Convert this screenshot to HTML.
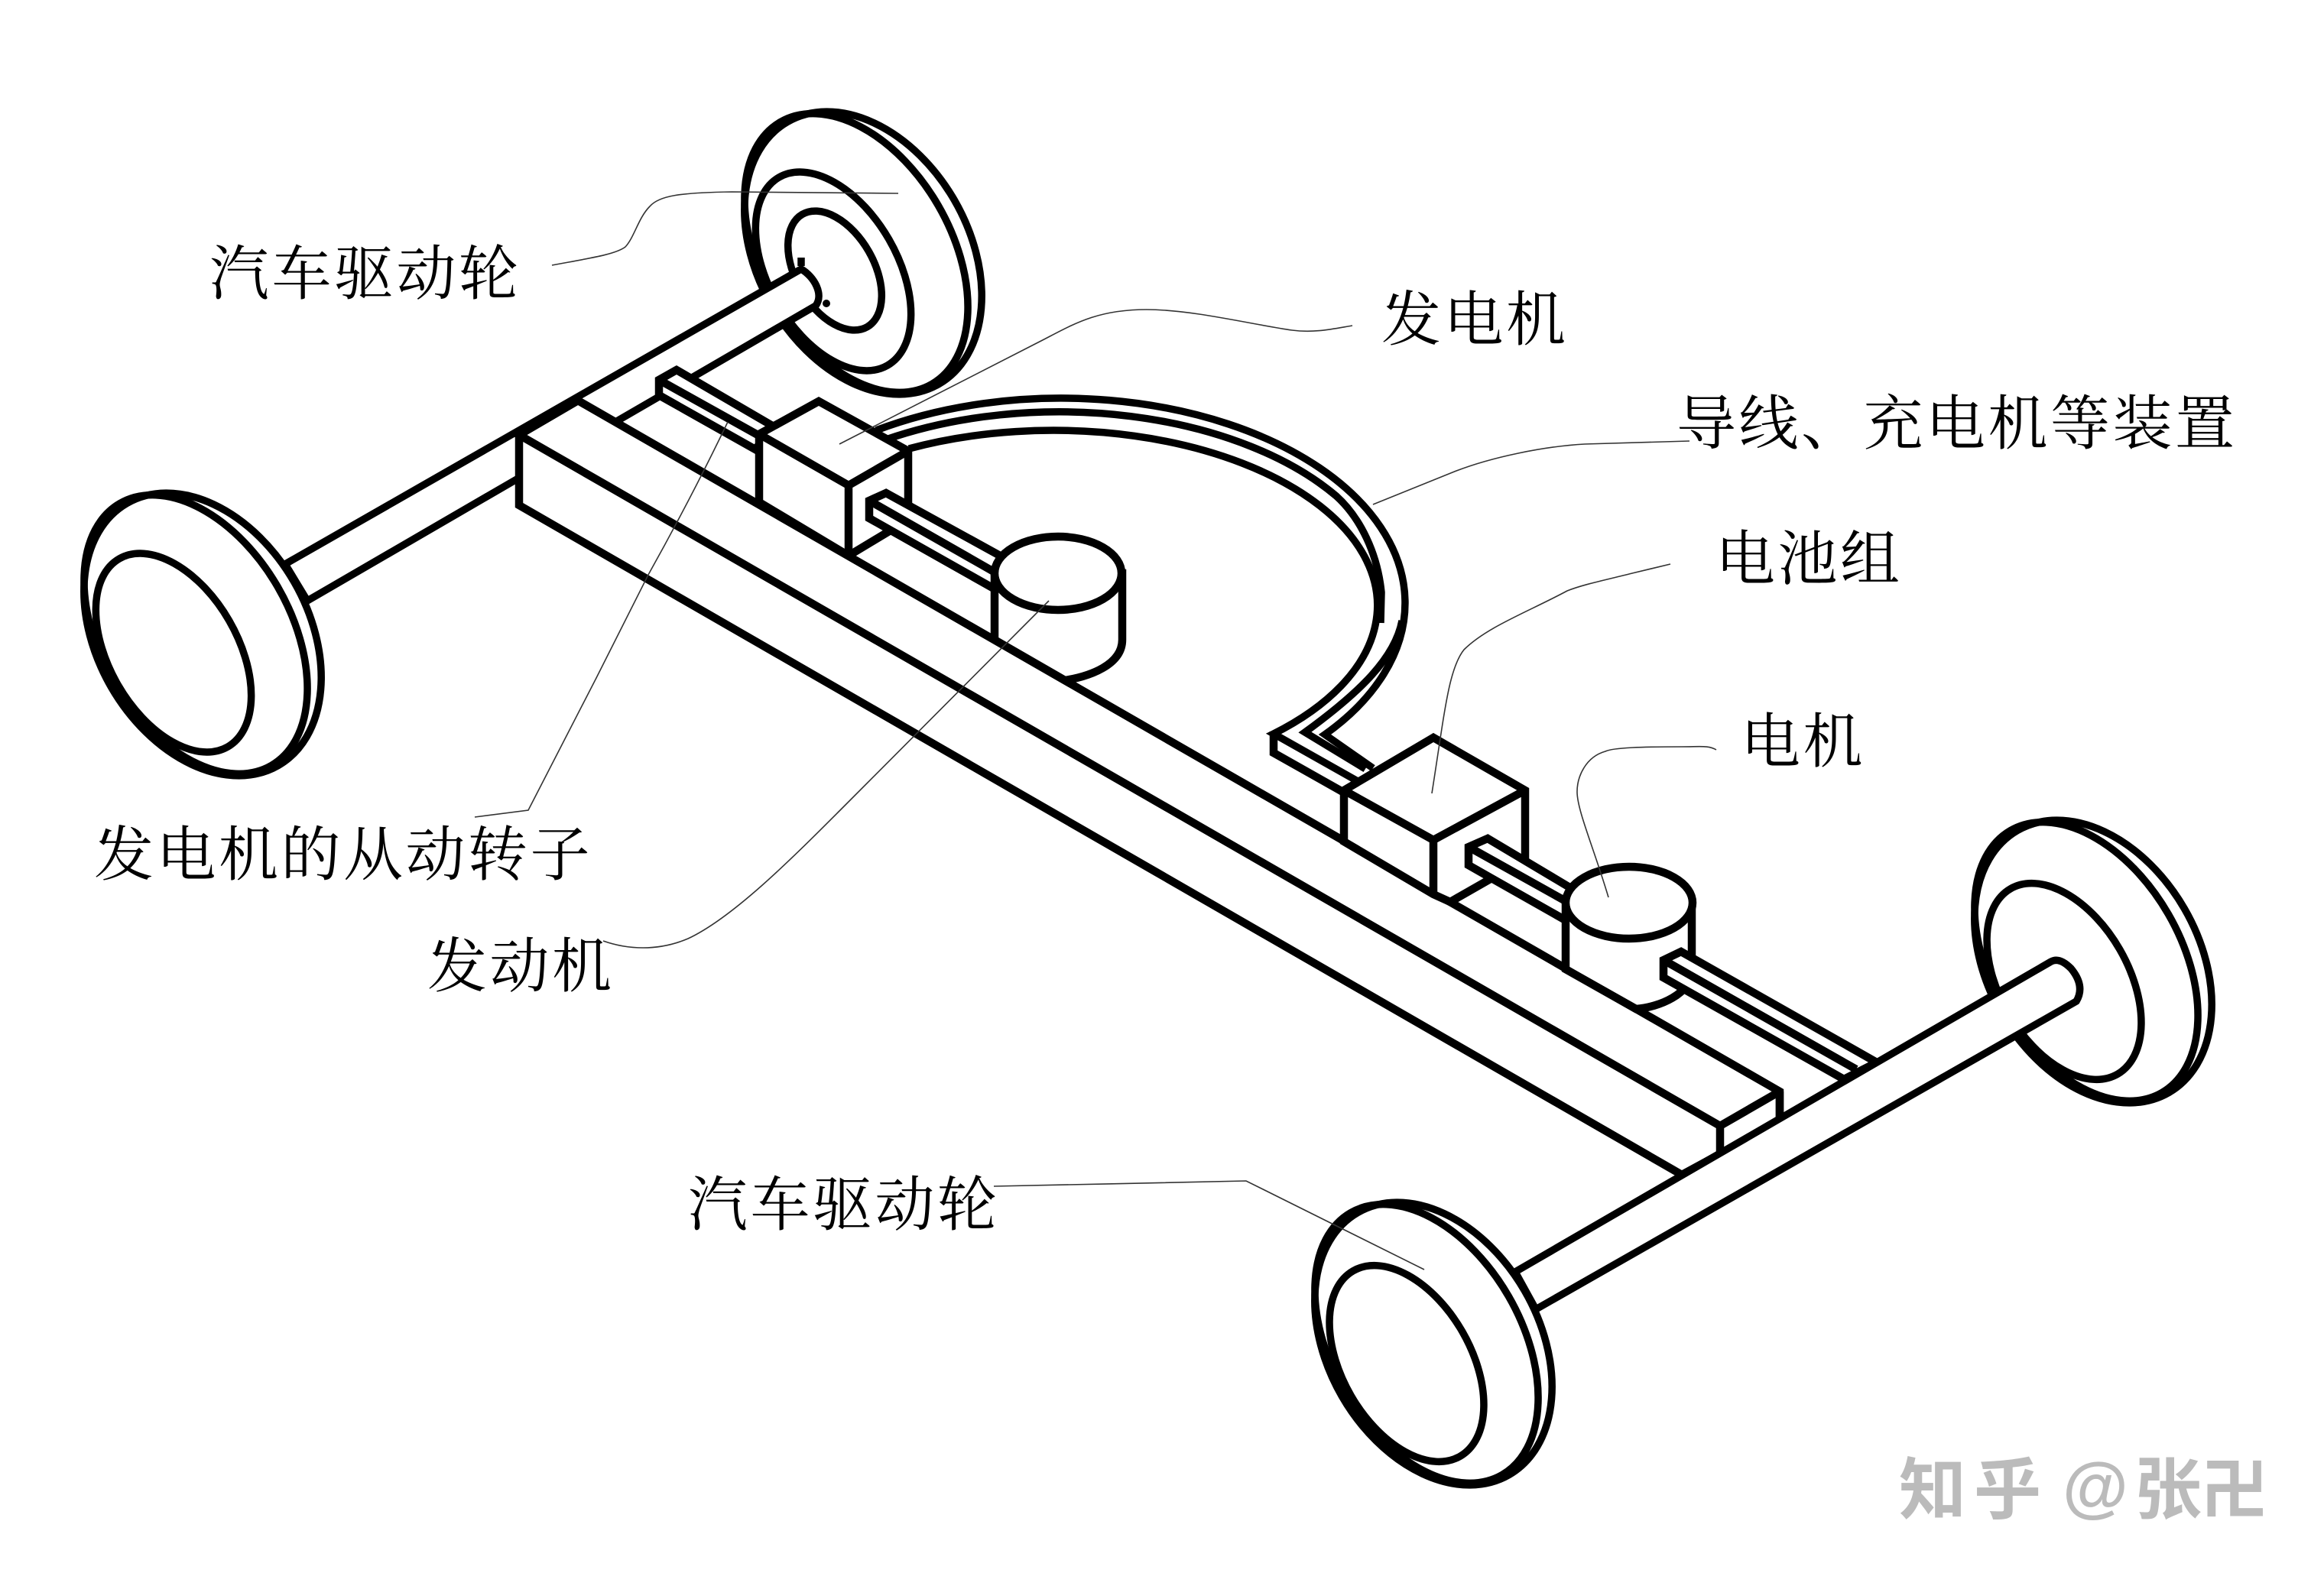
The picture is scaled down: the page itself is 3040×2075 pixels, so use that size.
<!DOCTYPE html>
<html lang="zh">
<head>
<meta charset="utf-8">
<title>串联式混合动力汽车结构图</title>
<style>
html,body{margin:0;padding:0;background:#fff;}
svg{display:block;}
.w{fill:#fff;stroke:#000;stroke-width:9.5;stroke-linejoin:round;}
.n{fill:none;stroke:#000;stroke-width:9.5;}
.b{fill:#fff;stroke:#000;stroke-width:10.5;stroke-linejoin:miter;}
.l{fill:none;stroke:#000;stroke-width:10.5;stroke-linejoin:miter;}
.t{fill:none;stroke:#333;stroke-width:1.6;}
.c{font-family:"Liberation Serif","Noto Serif CJK SC",serif;font-size:78px;letter-spacing:3.5px;font-weight:400;fill:#000;}
.m{font-family:"Liberation Sans","Noto Sans CJK SC",sans-serif;font-size:88px;font-weight:700;fill:#bbb;}
</style>
</head>
<body>
<svg width="3040" height="2075" viewBox="0 0 3040 2075" xmlns="http://www.w3.org/2000/svg">
<rect width="3040" height="2075" fill="#fff"/>

<!-- rear-right wheel -->
<g>
<ellipse class="w" cx="1129" cy="331" rx="138" ry="198" transform="rotate(-30 1129 331)"/>
<ellipse class="n" cx="1120" cy="331" rx="124" ry="198" transform="rotate(-30 1120 331)"/>
<ellipse class="w" cx="1090" cy="355" rx="84" ry="142" transform="rotate(-30 1090 355)"/>
<ellipse class="w" cx="1092" cy="354" rx="51" ry="85" transform="rotate(-30 1092 354)"/>
</g>

<!-- rear axle -->
<path class="w" d="M373,738 L1048,352 C1065,362 1078,385 1067,400 L402,786 Z"/>
<circle cx="1081" cy="397" r="5"/>
<path class="n" d="M1048,337 V348"/>

<!-- rear-left wheel -->
<g>
<ellipse class="w" cx="265" cy="830" rx="138" ry="198" transform="rotate(-30 265 830)"/>
<ellipse class="n" cx="256" cy="830" rx="124" ry="198" transform="rotate(-30 256 830)"/>
<ellipse class="n" cx="227" cy="854" rx="84" ry="142" transform="rotate(-30 227 854)"/>
</g>

<!-- chassis beam -->
<path d="M756,524 L2328,1428 L2328,1465 L2246,1512 L2200,1537 L679,661 L679,569 Z" class="b"/>
<path class="l" d="M756,524 L679,569 L2250,1473 L2328,1428"/>
<path class="l" d="M2250,1473 V1513 M2328,1428 V1462"/>

<!-- shaft bar 1 -->
<path class="b" d="M885,484 L862,497 L862,517 L988,588 L1012,558 Z"/>
<path class="l" d="M862,497 L993,570"/>

<!-- wire -->
<path class="n" d="M1146,563 A450,268 0 0 1 1733,961 L1796,1005"/>
<path class="n" d="M1159,575 A438,251 0 0 1 1748,649 C1780,678 1802,725 1807,775 L1806,815"/>
<path class="n" d="M1834,812 C1825,860 1780,905 1707,958 L1786,1006"/>
<path class="n" d="M1189,587 A424,229 0 0 1 1666,960 L1783,1026"/>
<path class="l" d="M1666,957 V985 L1760,1038"/>

<!-- cube 1 -->
<path class="b" d="M1071,525 L993,568 V657 L1110,727 L1188,680 V590 Z"/>
<path class="l" d="M993,568 L1110,635 L1188,590 M1110,635 V727"/>

<!-- bar 2 -->
<path class="b" d="M1159,645 L1137,655 V678 L1300,770 L1310,728 Z"/>
<path class="l" d="M1137,655 L1300,748"/>

<!-- cylinder 1 -->
<path class="b" d="M1301,750 V837 L1393,890 C1425,885 1468,870 1468,837 V750 Z"/>
<ellipse class="b" cx="1384" cy="750" rx="83" ry="48"/>

<!-- cube 2 -->
<path class="b" d="M1875,965 L1758,1034 V1101 L1875,1170 L1897,1180 L1995,1124 V1034 Z"/>
<path class="l" d="M1758,1034 L1875,1099 L1995,1034 M1875,1099 V1170"/>

<!-- bar 3 -->
<path class="b" d="M1946,1097 L1921,1108 V1132 L2055,1208 L2060,1165 Z"/>
<path class="l" d="M1921,1108 L2050,1180"/>

<!-- cylinder 2 -->
<path class="b" d="M2048,1181 V1268 L2140,1320 C2170,1318 2213,1300 2213,1270 V1181 Z"/>
<ellipse class="b" cx="2131" cy="1181" rx="83" ry="47"/>

<!-- bar 4 -->
<path class="b" d="M2199,1245 L2176,1256 V1279 L2412,1412 L2455,1390 Z"/>
<path class="l" d="M2176,1256 L2428,1399"/>

<!-- front-right wheel -->
<g>
<ellipse class="w" cx="2738" cy="1258" rx="138" ry="198" transform="rotate(-30 2738 1258)"/>
<ellipse class="n" cx="2729" cy="1258" rx="124" ry="198" transform="rotate(-30 2729 1258)"/>
<ellipse class="n" cx="2700" cy="1284" rx="84" ry="140" transform="rotate(-30 2700 1284)"/>
</g>

<!-- front axle -->
<path class="w" d="M1982,1664 L2683,1258 Q2694,1252 2709,1267 Q2728,1290 2716,1310 L2009,1713 Z"/>

<!-- front-left wheel -->
<g>
<ellipse class="w" cx="1875" cy="1758" rx="138" ry="198" transform="rotate(-30 1875 1758)"/>
<ellipse class="n" cx="1866" cy="1758" rx="124" ry="198" transform="rotate(-30 1866 1758)"/>
<ellipse class="n" cx="1840" cy="1784" rx="84" ry="140" transform="rotate(-30 1840 1784)"/>
</g>

<!-- leader lines -->
<path class="t" d="M722,347 C770,338 805,333 818,323 C830,310 835,285 850,270 C862,256 890,252 957,251 L1175,253"/>
<path class="t" d="M1098,581 L1354,450 C1400,427 1430,405 1500,405 C1560,405 1640,425 1690,432 C1720,436 1745,430 1769,426"/>
<path class="t" d="M1796,660 L1900,618 C1950,598 2020,584 2073,581 L2210,577"/>
<path class="t" d="M2185,738 L2135,750 C2095,760 2070,765 2050,773 C2000,800 1945,820 1915,850 C1895,875 1890,930 1873,1038"/>
<path class="t" d="M2245,981 C2235,975 2225,977 2200,977 C2150,977 2110,978 2100,983 C2075,990 2063,1015 2063,1036 C2063,1060 2085,1110 2104,1174"/>
<path class="t" d="M621,1069 L691,1060 L780,887 L848,752 Q905,650 952,552"/>
<path class="t" d="M789,1231 C820,1242 860,1245 900,1228 C960,1200 1040,1119 1100,1059 L1372,786"/>
<path class="t" d="M1300,1552 C1400,1550 1540,1547 1630,1545 L1863,1661"/>

<!-- labels -->
<text class="c" x="274" y="385">汽车驱动轮</text>
<text class="c" x="1807" y="445">发电机</text>
<text class="c" x="2193" y="581">导线、充电机等装置</text>
<text class="c" x="2244" y="758">电池组</text>
<text class="c" x="2277" y="997">电机</text>
<text class="c" x="123" y="1145">发电机的从动转子</text>
<text class="c" x="559" y="1291">发动机</text>
<text class="c" x="900" y="1603">汽车驱动轮</text>

<!-- watermark -->
<text class="m" x="2484" y="1980">知</text>
<text class="m" x="2582" y="1980">乎</text>
<text class="m" x="2698" y="1975" font-size="92">@</text>
<text class="m" x="2792" y="1980">张</text>
<text class="m" x="2879" y="1980">卍</text>
</svg>
</body>
</html>
